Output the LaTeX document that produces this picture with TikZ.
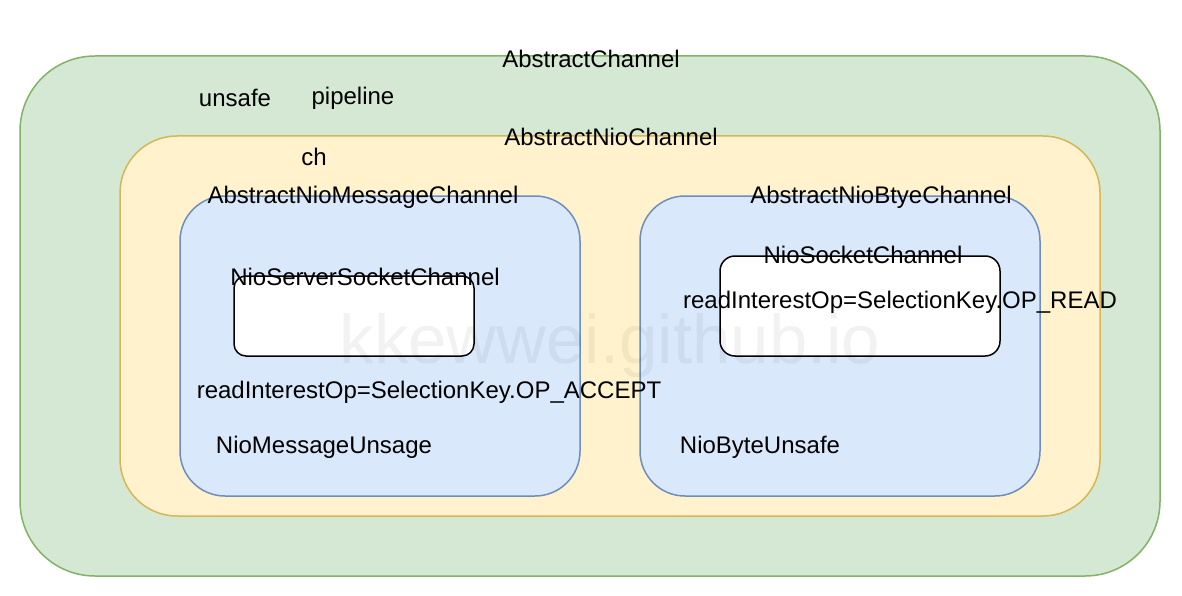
\documentclass[tikz,border=0pt]{standalone}
\usepackage{fontspec}
\setmainfont{Liberation Sans}
\definecolor{gfill}{HTML}{D5E8D4}
\definecolor{gline}{HTML}{82B366}
\definecolor{yfill}{HTML}{FFF2CC}
\definecolor{yline}{HTML}{D6B656}
\definecolor{bfill}{HTML}{DAE8FC}
\definecolor{bline}{HTML}{6C8EBF}
\tikzset{
  lbl/.style={inner sep=0pt, font=\fontsize{24}{28}\selectfont, anchor=center},
  box/.style={line width=1.5pt},
}
\begin{document}
\begin{tikzpicture}[x=1pt,y=-1pt]
\useasboundingbox (0,0) rectangle (1182,596);
\fill[white] (0,0) rectangle (1182,596);
% containers
\draw[box, fill=gfill, draw=gline, rounded corners=75pt] (20,56) rectangle (1160,576);
\draw[box, fill=yfill, draw=yline, rounded corners=57pt] (120,136) rectangle (1100,516);
\draw[box, fill=bfill, draw=bline, rounded corners=45pt] (180,196) rectangle (580,496);
\draw[box, fill=bfill, draw=bline, rounded corners=45pt] (640,196) rectangle (1040,496);
\draw[box, fill=white, draw=black, rounded corners=12pt] (234,276) rectangle (474,356);
\draw[box, fill=white, draw=black, rounded corners=15pt] (720,256) rectangle (1000,356);
% labels
\node[lbl] (ac) at (591,59) {AbstractChannel};
\node[lbl] (unsafe) at (235,98) {unsafe};
\node[lbl] (pipe) at (353,98) {pipeline};
\node[lbl] (anc) at (611,137) {AbstractNioChannel};
\node[lbl] (ch) at (314,157) {ch};
\node[lbl] (anmc) at (363,197) {AbstractNioMessageChannel};
\node[lbl] (anbc) at (881,197) {AbstractNioBtyeChannel};
\node[lbl] (nssc) at (365,277) {NioServerSocketChannel};
\node[lbl] (nsc) at (863,255) {NioSocketChannel};
\node[lbl] (opread) at (900,302) {readInterestOp=SelectionKey.OP\_READ};
\node[lbl] (opacc) at (429,392) {readInterestOp=SelectionKey.OP\_ACCEPT};
\node[lbl] (nmu) at (324,447) {NioMessageUnsage};
\node[lbl] (nbu) at (760,447) {NioByteUnsafe};
% watermark
\node[inner sep=0pt, font=\fontsize{69}{76}\selectfont, text=black, text opacity=0.05] (wm) at (610,346) {kkewwei.github.io};
\end{tikzpicture}
\end{document}
